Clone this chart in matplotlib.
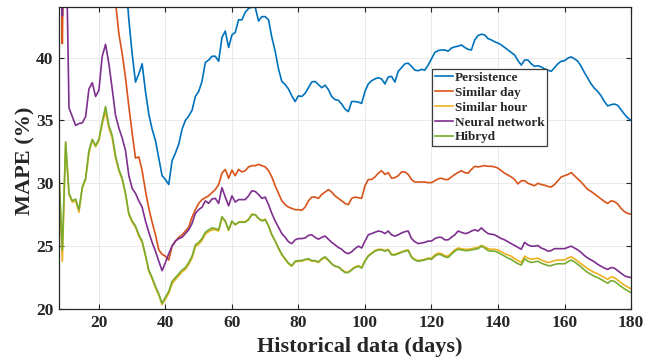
#!/usr/bin/python
# ------------------------------------------------------------------------------------------------------------------- #

import numpy as np
import matplotlib
matplotlib.use("Agg")
import matplotlib.pyplot as plt
from matplotlib.ticker import FixedLocator

# ------------------------------------------------------------------------------------------------------------------- #
# MAPE (%) against number of historical days used, days 8..180 (values above 44 fall outside the view)

days = list(range(8, 181))

persistence = [58.0, 57.5, 57.0, 56.5, 56.0, 55.5, 55.0, 54.5, 54.0, 53.5,
               53.0, 52.5, 52.0, 51.5, 51.0, 50.5, 50.0, 49.5, 49.0, 48.0,
               46.5, 43.0, 40.3, 38.05, 38.7, 39.5, 37.3, 35.5, 34.3, 33.4,
               32.0, 30.6, 30.3, 29.9, 31.8, 32.4, 33.1, 34.3, 35.0, 35.35,
               35.8, 36.9, 37.3, 38.1, 39.6, 39.8, 40.1, 40.1, 39.7, 41.6,
               42.1, 40.8, 41.8, 42.0, 43.0, 43.0, 43.6, 43.9, 44.0, 44.0,
               42.9, 43.25, 43.25, 43.0, 41.6, 40.5, 39.1, 38.1, 37.85, 37.5,
               36.95, 36.5, 36.95, 36.9, 37.15, 37.6, 38.05, 38.1, 37.85, 37.6,
               37.8, 37.45, 36.9, 36.65, 36.6, 36.3, 35.9, 35.7, 36.5, 36.5,
               36.45, 36.35, 37.3, 37.9, 38.15, 38.3, 38.4, 38.3, 37.9, 38.45,
               38.5, 38.05, 38.9, 39.2, 39.5, 39.55, 39.3, 39.0, 38.95, 39.05,
               39.0, 39.4, 39.9, 40.4, 40.55, 40.6, 40.6, 40.5, 40.75, 40.85,
               40.9, 41.0, 40.8, 40.65, 40.6, 41.4, 41.75, 41.85, 41.8, 41.5,
               41.4, 41.25, 41.15, 41.0, 40.8, 40.6, 40.4, 40.2, 39.75, 39.4,
               39.8, 39.8, 39.5, 39.3, 39.35, 39.25, 39.1, 39.0, 38.9, 39.2,
               39.5, 39.7, 39.75, 39.95, 40.05, 39.9, 39.7, 39.3, 38.8, 38.35,
               37.9, 37.55, 37.3, 36.95, 36.5, 36.15, 36.25, 36.3, 36.2, 35.85,
               35.5, 35.2, 35.0]

similar_day = [60.0, 41.1, 60.0, 59.0, 58.0, 57.0, 56.0, 55.0, 54.0, 53.0,
               52.0, 51.0, 50.0, 49.0, 48.0, 47.0, 46.0, 44.4, 41.9, 40.3,
               38.4, 36.1, 34.0, 32.0, 32.1, 31.0, 29.4, 28.0, 26.9, 25.9,
               24.7, 24.35, 24.2, 23.9, 25.0, 25.4, 25.7, 25.9, 26.2, 26.5,
               27.3, 27.9, 28.4, 28.7, 28.85, 29.0, 29.25, 29.5, 29.9, 30.8,
               31.1, 30.4, 31.05, 30.6, 31.1, 30.9, 31.0, 31.3, 31.4, 31.4,
               31.5, 31.4, 31.3, 31.0, 30.5, 29.8, 29.2, 28.6, 28.3, 28.1,
               28.0, 27.9, 27.9, 27.85, 28.1, 28.6, 28.9, 28.9, 28.8, 29.1,
               29.3, 29.5, 29.3, 29.0, 28.8, 28.6, 28.4, 28.3, 28.8, 28.9,
               28.85, 28.8, 29.8, 30.3, 30.3, 30.5, 30.8, 31.0, 30.7, 30.85,
               30.4, 30.45, 30.6, 30.9, 30.9, 30.7, 30.3, 30.1, 30.1, 30.1,
               30.1, 30.05, 30.05, 30.2, 30.35, 30.4, 30.3, 30.3, 30.5, 30.7,
               30.85, 31.0, 30.85, 30.8, 31.1, 31.35, 31.3, 31.35, 31.4, 31.35,
               31.35, 31.3, 31.2, 31.0, 30.8, 30.65, 30.5, 30.3, 29.95, 30.2,
               30.2, 30.0, 29.9, 29.8, 30.0, 29.9, 29.85, 29.75, 29.7, 29.9,
               30.2, 30.5, 30.6, 30.7, 30.85, 30.6, 30.35, 30.1, 29.8, 29.5,
               29.35, 29.15, 28.95, 28.75, 28.55, 28.4, 28.6, 28.55, 28.35, 28.0,
               27.75, 27.6, 27.55]

similar_hour = [30.2, 23.8, 33.2, 29.1, 28.5, 28.6, 27.7, 29.6, 30.3, 32.4,
                33.4, 32.9, 33.4, 34.7, 35.7, 34.4, 33.6, 32.0, 31.0, 30.3,
                29.1, 27.5, 26.9, 26.5, 25.8, 25.3, 24.2, 23.0, 22.4, 21.7,
                21.1, 20.35, 20.8, 21.25, 22.0, 22.35, 22.65, 22.95, 23.15, 23.55,
                24.05, 24.95, 25.15, 25.45, 25.95, 26.15, 26.3, 26.3, 26.2, 27.25,
                26.95, 26.25, 26.95, 26.7, 26.9, 26.95, 26.95, 27.15, 27.55, 27.5,
                27.2, 27.05, 27.15, 26.65, 25.9, 25.4, 24.8, 24.3, 23.95, 23.6,
                23.4, 23.75, 23.8, 23.8, 23.9, 23.95, 23.8, 23.8, 23.7, 23.95,
                24.1, 23.85, 23.6, 23.4, 23.35, 23.15, 22.95, 22.95, 23.15, 23.35,
                23.45, 23.3, 23.85, 24.25, 24.45, 24.65, 24.75, 24.75, 24.65, 24.75,
                24.35, 24.35, 24.45, 24.55, 24.65, 24.7, 24.15, 23.95, 23.85, 23.9,
                23.95, 24.05, 24.05, 24.3, 24.45, 24.4, 24.25, 24.2, 24.45, 24.7,
                24.85, 24.8, 24.75, 24.75, 24.8, 24.85, 24.9, 25.05, 24.95, 24.8,
                24.75, 24.75, 24.7, 24.55, 24.4, 24.3, 24.2, 24.0, 23.85, 23.7,
                24.2, 24.05, 23.95, 24.0, 24.05, 23.9, 23.8, 23.7, 23.75, 23.85,
                23.9, 23.9, 23.9, 24.05, 24.15, 24.0, 23.8, 23.6, 23.4, 23.2,
                23.05, 22.9, 22.8, 22.65, 22.5, 22.35, 22.55, 22.5, 22.3, 22.1,
                21.9, 21.75, 21.6]

neural_network = [60.0, 43.3, 52.0, 36.0, 35.3, 34.6, 34.75, 34.8, 35.3, 37.5,
                  38.0, 36.9, 37.4, 40.1, 41.05, 39.5, 37.5, 35.4, 34.4, 33.6,
                  32.6, 30.6, 29.6, 29.2, 28.6, 28.1, 27.0, 26.1, 25.3, 24.6,
                  23.8, 23.05, 23.7, 24.4, 25.0, 25.4, 25.6, 25.7, 26.0, 26.3,
                  26.8, 27.6, 27.9, 28.1, 28.6, 28.4, 28.75, 28.8, 28.4, 29.65,
                  28.9, 28.2, 29.0, 28.5, 28.7, 28.7, 28.7, 29.0, 29.4, 29.35,
                  29.1, 28.8, 28.9, 28.3, 27.6, 27.0, 26.5, 26.0, 25.7, 25.35,
                  25.2, 25.5, 25.6, 25.6, 25.65, 25.85, 25.9, 25.7, 25.55, 25.7,
                  25.8, 25.55, 25.3, 25.1, 24.9, 24.75, 24.5, 24.4, 24.55, 24.8,
                  25.0, 24.85, 25.4, 25.9, 26.0, 26.1, 26.2, 26.15, 26.0, 26.2,
                  25.9, 25.8, 25.9, 26.05, 26.15, 26.2, 25.6, 25.35, 25.2, 25.25,
                  25.3, 25.4, 25.4, 25.6, 25.7, 25.7, 25.5, 25.5, 25.7, 25.9,
                  26.2, 26.1, 26.0, 26.05, 26.2, 26.3, 26.2, 26.45, 26.2, 26.0,
                  25.95, 25.9, 25.75, 25.6, 25.5, 25.35, 25.2, 25.05, 24.9, 24.75,
                  25.3, 25.1, 25.0, 25.0, 25.05, 24.85, 24.75, 24.6, 24.65, 24.8,
                  24.8, 24.8, 24.8, 24.9, 25.0, 24.85, 24.7, 24.5, 24.25, 24.05,
                  23.9, 23.75, 23.55, 23.4, 23.25, 23.15, 23.3, 23.25, 23.05, 22.85,
                  22.65, 22.55, 22.5]

hibryd = [30.8, 24.7, 33.3, 29.2, 28.6, 28.75, 27.9, 29.7, 30.4, 32.6,
          33.5, 33.0, 33.5, 34.9, 36.1, 34.6, 33.8, 32.2, 31.1, 30.4,
          29.2, 27.6, 27.0, 26.6, 25.9, 25.4, 24.3, 23.1, 22.5, 21.8,
          21.2, 20.45, 20.95, 21.4, 22.2, 22.5, 22.8, 23.1, 23.3, 23.7,
          24.2, 25.1, 25.3, 25.6, 26.1, 26.3, 26.45, 26.4, 26.3, 27.35,
          27.0, 26.3, 27.0, 26.7, 26.9, 26.9, 26.9, 27.1, 27.5, 27.5,
          27.2, 27.0, 27.1, 26.6, 25.9, 25.4, 24.85, 24.35, 24.0, 23.65,
          23.45, 23.8, 23.85, 23.85, 23.95, 24.0, 23.85, 23.85, 23.75, 24.0,
          24.15, 23.9, 23.6, 23.4, 23.35, 23.1, 22.9, 22.9, 23.1, 23.3,
          23.4, 23.25, 23.8, 24.2, 24.4, 24.6, 24.7, 24.7, 24.6, 24.7,
          24.3, 24.3, 24.4, 24.5, 24.6, 24.65, 24.1, 23.9, 23.8, 23.85,
          23.9, 24.0, 23.95, 24.2, 24.35, 24.3, 24.15, 24.1, 24.35, 24.6,
          24.75, 24.7, 24.65, 24.65, 24.7, 24.75, 24.8, 25.0, 24.85, 24.65,
          24.6, 24.6, 24.5, 24.35, 24.2, 24.05, 23.95, 23.75, 23.6, 23.5,
          24.0, 23.8, 23.7, 23.75, 23.8, 23.65, 23.55, 23.45, 23.45, 23.55,
          23.6, 23.6, 23.6, 23.75, 23.9, 23.75, 23.55, 23.35, 23.1, 22.9,
          22.75, 22.6, 22.5, 22.35, 22.2, 22.05, 22.25, 22.2, 22.0, 21.8,
          21.6, 21.45, 21.3]

series_labels = ['Persistence', 'Similar day', 'Similar hour', 'Neural network', 'Hibryd']
x_ticks = [20, 40, 60, 80, 100, 120, 140, 160, 180]
y_ticks = [20, 25, 30, 35, 40]

# ------------------------------------------------------------------------------------------------------------------- #

plt.rcParams['font.family'] = ['Liberation Serif', 'DejaVu Serif']
plt.rcParams['font.weight'] = 'bold'

colors = ['#0072BD', '#D95319', '#EDB120', '#7E2F8E', '#77AC30']
dark = '#262626'

fig = plt.figure(figsize=(6.6, 3.61), dpi=100)
ax = fig.add_axes([0.0894, 0.144, 0.8667, 0.836])

all_series = [persistence, similar_day, similar_hour, neural_network, hibryd]
for values, name, col in zip(all_series, series_labels, colors):
    ax.plot(days, values, color=col, linewidth=1.2, label=name)

ax.set_xlim(8, 180)
ax.set_ylim(20, 44)
ax.xaxis.set_major_locator(FixedLocator(x_ticks))
ax.yaxis.set_major_locator(FixedLocator(y_ticks))
ax.tick_params(direction='in', top=True, right=True, length=3.5, width=0.8,
               colors=dark, labelsize=12.5, pad=4)
for lab in ax.get_xticklabels() + ax.get_yticklabels():
    lab.set_fontweight('bold')

ax.grid(True, color='#e6e6e6', linewidth=0.6)
ax.set_axisbelow(True)
for sp in ax.spines.values():
    sp.set_color(dark)
    sp.set_linewidth(0.9)

ax.set_xlabel('Historical data (days)', fontsize=16, fontweight='bold', color=dark)
ax.set_ylabel('MAPE (%)', fontsize=16, fontweight='bold', color=dark)
ax.xaxis.set_label_coords(0.526, -0.092)
ax.yaxis.set_label_coords(-0.041, 0.49)

legend = ax.legend(loc='upper left', bbox_to_anchor=(0.652, 0.795), fontsize=9.5, frameon=True,
                   fancybox=False, framealpha=1, edgecolor='#3c3c3c', handlelength=1.4,
                   handletextpad=0.15, labelspacing=0.2, borderpad=0.2, borderaxespad=0)
legend.get_frame().set_linewidth(0.9)
for t in legend.get_texts():
    t.set_fontweight('bold')
    t.set_color(dark)

plt.savefig("out.png", dpi=100)

# ------------------------------------------------------------------------------------------------------------------- #
